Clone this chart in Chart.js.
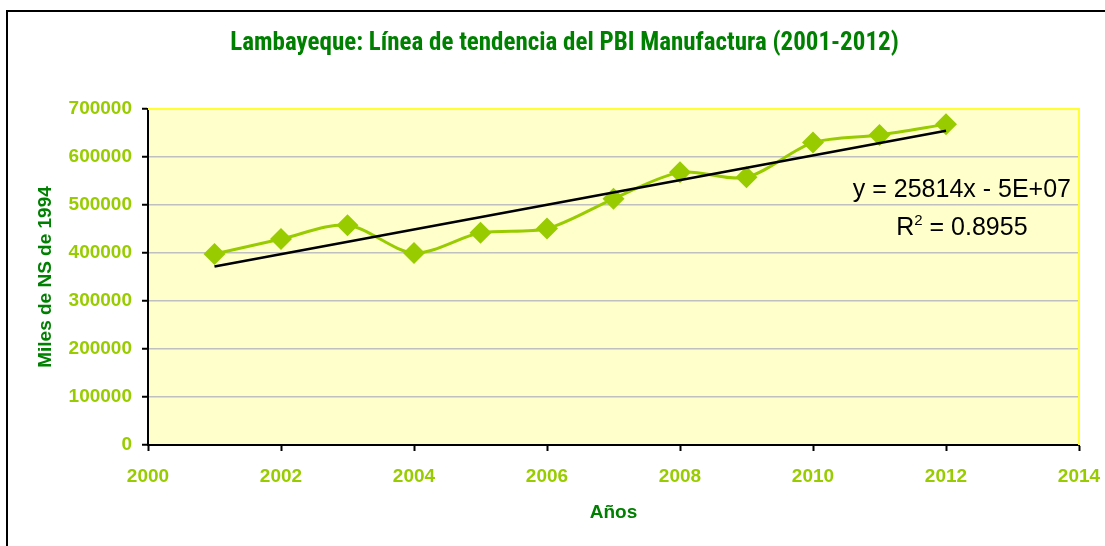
<!DOCTYPE html>
<html><head><meta charset="utf-8">
<script src="https://cdn.jsdelivr.net/npm/chart.js@4.4.0/dist/chart.umd.min.js"></script>
<style>
html,body{margin:0;padding:0;background:#fff;overflow:hidden;}
#wrap{position:relative;width:1105px;height:546px;}
#frame{position:absolute;left:6px;top:10px;width:1120px;height:560px;border-top:2px solid #000;border-left:2px solid #000;box-sizing:border-box;pointer-events:none;}
canvas{position:absolute;left:0;top:0;}
</style></head><body>
<div id="wrap"><canvas id="c" width="1105" height="546"></canvas><div id="frame"></div></div>
<script>
// ---- data ----
const years = [2001, 2002, 2003, 2004, 2005, 2006, 2007, 2008, 2009, 2010, 2011, 2012];
const pbiManufactura = [398000, 429000, 458000, 400000, 442000, 451000, 513000, 568000, 558000, 630000, 646000, 668000];
const xTickValues = [2000, 2002, 2004, 2006, 2008, 2010, 2012, 2014];
const yTickValues = [0, 100000, 200000, 300000, 400000, 500000, 600000, 700000];
const titleText = 'Lambayeque: Línea de tendencia del PBI Manufactura (2001-2012)';
const xTitle = 'Años';
const yTitle = 'Miles de NS de 1994';
const equationText = 'y = 25814x - 5E+07';
const r2Label = 'R';
const r2Sup = '2';
const r2Value = ' = 0.8955';

// linear trend (least squares) from the series
const n = years.length;
const mx = years.reduce((a, b) => a + b, 0) / n;
const my = pbiManufactura.reduce((a, b) => a + b, 0) / n;
let sxy = 0, sxx = 0;
for (let i = 0; i < n; i++) { sxy += (years[i] - mx) * (pbiManufactura[i] - my); sxx += (years[i] - mx) ** 2; }
const slope = sxy / sxx, intercept = my - slope * mx;
const trendX = [years[0], years[n - 1]];
const trendData = trendX.map(x => ({x: x, y: slope * x + intercept}));

const GREEN = '#99CC00';
const DARK = '#008000';
const tickFont = {family: "'Liberation Sans', Arial, sans-serif", size: 19, weight: 'bold'};
const axisTitleFont = {family: "'Liberation Sans', Arial, sans-serif", size: 19, weight: 'bold'};
const EQ_FONT = "25px 'Liberation Sans', Arial, sans-serif";
const SUP_FONT = "15px 'Liberation Sans', Arial, sans-serif";

const plotBg = {
  id: 'plotBg',
  beforeDraw(chart) {
    const {ctx, chartArea: a} = chart;
    ctx.save(); ctx.fillStyle = '#FFFFCC';
    ctx.fillRect(a.left, a.top, a.right - a.left, a.bottom - a.top);
    ctx.restore();
  },
  beforeDatasetsDraw(chart) {
    const {ctx, chartArea: a} = chart;
    ctx.save(); ctx.strokeStyle = '#FFFF33'; ctx.lineWidth = 2;
    ctx.beginPath(); ctx.moveTo(a.left, a.top); ctx.lineTo(a.right, a.top); ctx.lineTo(a.right, a.bottom); ctx.stroke();
    ctx.restore();
  }
};
const eqPlugin = {
  id: 'eq',
  afterDraw(chart) {
    const {ctx, chartArea: a} = chart;
    ctx.save();
    ctx.fillStyle = '#000';
    ctx.font = EQ_FONT;
    ctx.textBaseline = 'alphabetic';
    const right = a.right - 8;
    const w1 = ctx.measureText(equationText).width;
    ctx.textAlign = 'right';
    ctx.fillText(equationText, right, a.top + 88);
    const cx = right - w1 / 2;
    const wR = ctx.measureText(r2Label).width;
    const wV = ctx.measureText(r2Value).width;
    ctx.font = SUP_FONT;
    const wS = ctx.measureText(r2Sup).width;
    const total = wR + wS + wV;
    let x = cx - total / 2;
    const by = a.top + 126;
    ctx.textAlign = 'left';
    ctx.font = EQ_FONT;
    ctx.fillText(r2Label, x, by); x += wR;
    ctx.font = SUP_FONT;
    ctx.fillText(r2Sup, x, by - 10); x += wS;
    ctx.font = EQ_FONT;
    ctx.fillText(r2Value, x, by);
    ctx.restore();
  }
};

new Chart(document.getElementById('c'), {
  type: 'line',
  data: {
    datasets: [
      {
        label: 'PBI Manufactura',
        data: years.map((y, i) => ({x: y, y: pbiManufactura[i]})),
        borderColor: GREEN, backgroundColor: GREEN, borderWidth: 3,
        tension: 0.3, pointStyle: 'rectRot', pointRadius: 11, pointBorderWidth: 0,
        pointBackgroundColor: GREEN, pointBorderColor: GREEN, order: 2
      },
      {
        label: 'Tendencia',
        data: trendData,
        borderColor: '#000', borderWidth: 2.5, pointRadius: 0, tension: 0, order: 1
      }
    ]
  },
  options: {
    responsive: false, animation: false,
    layout: {padding: {left: 50, right: 26, top: 0, bottom: 0}},
    plugins: {
      legend: {display: false}, tooltip: {enabled: false},
      title: {
        display: true, text: titleText, color: DARK,
        font: {family: "'Liberation Sans Narrow', 'Arial Narrow', 'Roboto Condensed', sans-serif", size: 25, weight: 'bold'},
        padding: {top: 29, bottom: 50}
      }
    },
    scales: {
      x: {
        type: 'linear', min: 2000, max: 2014,
        afterBuildTicks: s => { s.ticks = xTickValues.map(v => ({value: v})); },
        afterFit: s => { s.height = 101; s.paddingRight = 0; s.paddingLeft = 0; },
        ticks: {color: GREEN, font: tickFont, padding: 14, maxRotation: 0, callback: v => String(v)},
        grid: {drawOnChartArea: false, tickColor: '#000', tickLength: 6, tickWidth: 2},
        border: {display: true, color: '#000', width: 2},
        title: {display: true, text: xTitle, color: DARK, font: axisTitleFont, padding: {top: 0, bottom: 22}}
      },
      y: {
        min: 0, max: 700000,
        afterBuildTicks: s => { s.ticks = yTickValues.map(v => ({value: v})); },
        afterFit: s => { s.width = 98; },
        ticks: {color: GREEN, font: tickFont, padding: 10, callback: v => String(v)},
        grid: {color: '#C0C0C0', lineWidth: 1.5, tickColor: '#000', tickLength: 6, tickWidth: 2},
        border: {display: true, color: '#000', width: 2},
        title: {display: true, text: yTitle, color: DARK, font: axisTitleFont, padding: {top: -16, bottom: 0}}
      }
    }
  },
  plugins: [plotBg, eqPlugin]
});
</script>
</body></html>
